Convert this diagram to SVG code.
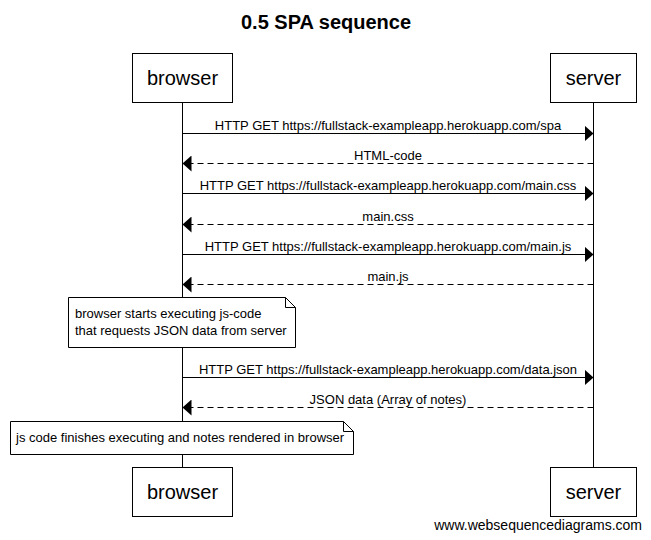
<svg xmlns="http://www.w3.org/2000/svg" width="651" height="540" viewBox="0 0 651 540">
<style>
text{font-family:"Liberation Sans",Arial,sans-serif;fill:#000}
.box{fill:#fff;stroke:#000;stroke-width:1}
.life{stroke:#000;stroke-width:1}
.msg{stroke:#000;stroke-width:1;fill:none}
.dash{stroke-dasharray:6,4}
.lbl{font-size:13px;text-anchor:middle}
.actor{font-size:20px;text-anchor:middle}
.note{font-size:13px}
</style>
<defs>
<marker id="ah" markerWidth="10" markerHeight="16" refX="9" refY="8" orient="auto" markerUnits="userSpaceOnUse">
<path d="M0,0 L9,8 L0,16 Z" fill="#000"/>
</marker>
</defs>
<rect width="651" height="540" fill="#fff"/>
<text x="326" y="29" font-size="20" font-weight="bold" text-anchor="middle">0.5 SPA sequence</text>
<g id="lifelines">
<line class="life" x1="182.5" y1="102" x2="182.5" y2="467"/>
<line class="life" x1="593.5" y1="102" x2="593.5" y2="467"/>
</g>
<g id="browser-top"><rect class="box" x="132.5" y="53.5" width="100" height="49"/><text class="actor" x="182.5" y="85">browser</text></g>
<g id="server-top"><rect class="box" x="550.5" y="53.5" width="86" height="49"/><text class="actor" x="593.5" y="85">server</text></g>
<g id="connectors">
<line class="msg" x1="182.5" y1="133.5" x2="593.5" y2="133.5" marker-end="url(#ah)"/>
<text class="lbl" x="388" y="129.5">HTTP GET https://fullstack-exampleapp.herokuapp.com/spa</text>
<line class="msg dash" x1="593.5" y1="163.5" x2="182.5" y2="163.5" marker-end="url(#ah)"/>
<text class="lbl" x="388" y="159.5">HTML-code</text>
<line class="msg" x1="182.5" y1="193.5" x2="593.5" y2="193.5" marker-end="url(#ah)"/>
<text class="lbl" x="388" y="189.5">HTTP GET https://fullstack-exampleapp.herokuapp.com/main.css</text>
<line class="msg dash" x1="593.5" y1="224.5" x2="182.5" y2="224.5" marker-end="url(#ah)"/>
<text class="lbl" x="388" y="220.5">main.css</text>
<line class="msg" x1="182.5" y1="254.5" x2="593.5" y2="254.5" marker-end="url(#ah)"/>
<text class="lbl" x="388" y="250.5">HTTP GET https://fullstack-exampleapp.herokuapp.com/main.js</text>
<line class="msg dash" x1="593.5" y1="284.5" x2="182.5" y2="284.5" marker-end="url(#ah)"/>
<text class="lbl" x="388" y="280.5">main.js</text>
<line class="msg" x1="182.5" y1="377.5" x2="593.5" y2="377.5" marker-end="url(#ah)"/>
<text class="lbl" x="388" y="373.5">HTTP GET https://fullstack-exampleapp.herokuapp.com/data.json</text>
<line class="msg dash" x1="593.5" y1="407.5" x2="182.5" y2="407.5" marker-end="url(#ah)"/>
<text class="lbl" x="388" y="403.5">JSON data (Array of notes)</text>
</g>
<g id="note1">
<path class="box" d="M68.5,297.5 H285.5 L295.5,307.5 V347.5 H68.5 Z"/>
<path class="msg" d="M285.5,297.5 V307.5 H295.5"/>
<text class="note" x="75" y="318">browser starts executing js-code</text>
<text class="note" x="75" y="335">that requests JSON data from server</text>
</g>
<g id="note2">
<path class="box" d="M10.5,421.5 H343.5 L353.5,431.5 V454.5 H10.5 Z"/>
<path class="msg" d="M343.5,421.5 V431.5 H353.5"/>
<text class="note" x="16" y="442">js code finishes executing and notes rendered in browser</text>
</g>
<g id="browser-bottom"><rect class="box" x="132.5" y="467.5" width="100" height="49"/><text class="actor" x="182.5" y="499">browser</text></g>
<g id="server-bottom"><rect class="box" x="550.5" y="467.5" width="86" height="49"/><text class="actor" x="593.5" y="499">server</text></g>
<text x="642" y="530" font-size="14" text-anchor="end">www.websequencediagrams.com</text>
</svg>
